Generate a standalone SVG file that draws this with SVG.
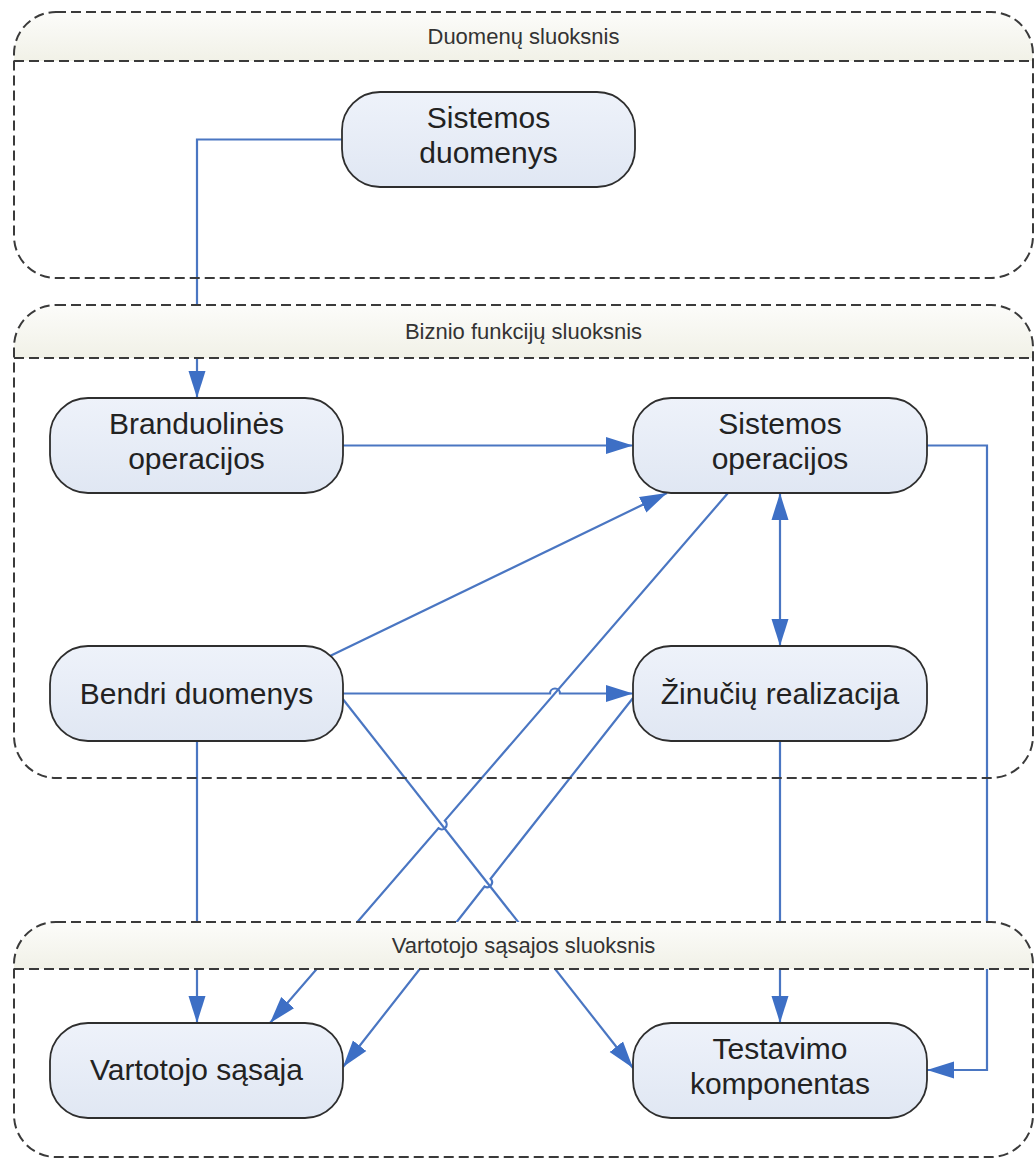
<svg xmlns="http://www.w3.org/2000/svg" width="1036" height="1160" viewBox="0 0 1036 1160">
  <defs>
    <linearGradient id="nodeFill" x1="0" y1="0" x2="0" y2="1">
      <stop offset="0" stop-color="#eef2fa"/>
      <stop offset="1" stop-color="#e0e7f3"/>
    </linearGradient>
    <linearGradient id="headFill" x1="0" y1="0" x2="0" y2="1">
      <stop offset="0" stop-color="#fcfcfa"/>
      <stop offset="1" stop-color="#f1f1e7"/>
    </linearGradient>
    <marker id="arrow" markerUnits="userSpaceOnUse" markerWidth="30" markerHeight="20" refX="27" refY="9" orient="auto-start-reverse">
      <path d="M0,0.5 L27,9 L0,17.5 Z" fill="#3d6fc5"/>
    </marker>
  </defs>
  <style>
    .body { fill: #ffffff; stroke: none; }
    .outline { fill: none; stroke: #3a3a3a; stroke-width: 2; stroke-dasharray: 10 5; }
    .head { fill: url(#headFill); stroke: none; }
    .headtxt { font-family: "Liberation Sans", Arial, sans-serif; font-size: 22px; fill: #333333; text-anchor: middle; }
    .node rect { fill: url(#nodeFill); stroke: #2e2e2e; stroke-width: 1.8; }
    .node text { font-family: "Liberation Sans", Arial, sans-serif; font-size: 30px; fill: #222222; text-anchor: middle; }
    .conn { fill: none; stroke: #4a76c2; stroke-width: 2.2; }
    .arr { marker-end: url(#arrow); }
    .both { marker-start: url(#arrow); marker-end: url(#arrow); }
  </style>

  <!-- white layer bodies, drawn under the connectors -->
  <g id="layer-bodies">
    <rect class="body" x="14" y="12" width="1019" height="266" rx="42"/>
    <rect class="body" x="14" y="305" width="1019" height="473" rx="42"/>
    <rect class="body" x="14" y="922" width="1019" height="235" rx="42"/>
  </g>

  <!-- connectors (line hops where they cross) -->
  <g id="connectors">
    <path class="conn arr" d="M342,139.5 H197 V398"/>
    <path class="conn arr" d="M343,445.5 H633"/>
    <path class="conn arr" d="M927,445.5 H987 V1070 H927"/>
    <path class="conn both" d="M780,493 V646"/>
    <path class="conn arr" d="M330,656 L667,493"/>
    <path class="conn arr" d="M343,693.5 H550 A5,5 0 0 1 560,693.5 H633"/>
    <path class="conn arr" d="M728,493 L444.9,820.6 A5,5 0 0 1 438.4,828.2 L270,1023"/>
    <path class="conn arr" d="M633,698 L490.6,878.7 A5,5 0 0 1 484.5,886.5 L343,1067"/>
    <path class="conn arr" d="M197,741 V1023"/>
    <path class="conn arr" d="M342,698 L633,1068"/>
    <path class="conn arr" d="M780,741 V1023"/>
  </g>

  <!-- layers: opaque header bands over the connectors, dashed outlines, titles -->
  <g id="layer-data">
    <path class="head" d="M14,61 V54 A42,42 0 0 1 56,12 H991 A42,42 0 0 1 1033,54 V61 Z"/>
    <rect class="outline" x="14" y="12" width="1019" height="266" rx="42"/>
    <line class="outline" x1="14" y1="61" x2="1033" y2="61"/>
    <text class="headtxt" x="523.5" y="44">Duomenų sluoksnis</text>
  </g>
  <g id="layer-business">
    <path class="head" d="M14,358 V347 A42,42 0 0 1 56,305 H991 A42,42 0 0 1 1033,347 V358 Z"/>
    <rect class="outline" x="14" y="305" width="1019" height="473" rx="42"/>
    <line class="outline" x1="14" y1="358" x2="1033" y2="358"/>
    <text class="headtxt" x="523.5" y="339">Biznio funkcijų sluoksnis</text>
  </g>
  <g id="layer-ui">
    <path class="head" d="M14,969 V964 A42,42 0 0 1 56,922 H991 A42,42 0 0 1 1033,964 V969 Z"/>
    <rect class="outline" x="14" y="922" width="1019" height="235" rx="42"/>
    <line class="outline" x1="14" y1="969" x2="1033" y2="969"/>
    <text class="headtxt" x="523.5" y="953">Vartotojo sąsajos sluoksnis</text>
  </g>

  <!-- nodes -->
  <g id="sistemos-duomenys" class="node">
    <rect x="342" y="92" width="293" height="95" rx="38"/>
    <text x="488.5" y="128">Sistemos</text>
    <text x="488.5" y="163">duomenys</text>
  </g>
  <g id="branduolines-operacijos" class="node">
    <rect x="50" y="398" width="293" height="95" rx="38"/>
    <text x="196.5" y="434">Branduolinės</text>
    <text x="196.5" y="469">operacijos</text>
  </g>
  <g id="sistemos-operacijos" class="node">
    <rect x="633" y="398" width="294" height="95" rx="38"/>
    <text x="780" y="434">Sistemos</text>
    <text x="780" y="469">operacijos</text>
  </g>
  <g id="bendri-duomenys" class="node">
    <rect x="50" y="646" width="293" height="95" rx="38"/>
    <text x="196.5" y="704">Bendri duomenys</text>
  </g>
  <g id="zinuciu-realizacija" class="node">
    <rect x="633" y="646" width="294" height="95" rx="38"/>
    <text x="780" y="704">Žinučių realizacija</text>
  </g>
  <g id="vartotojo-sasaja" class="node">
    <rect x="50" y="1023" width="293" height="95" rx="38"/>
    <text x="196.5" y="1080">Vartotojo sąsaja</text>
  </g>
  <g id="testavimo-komponentas" class="node">
    <rect x="633" y="1023" width="294" height="95" rx="38"/>
    <text x="780" y="1059">Testavimo</text>
    <text x="780" y="1094">komponentas</text>
  </g>
</svg>
